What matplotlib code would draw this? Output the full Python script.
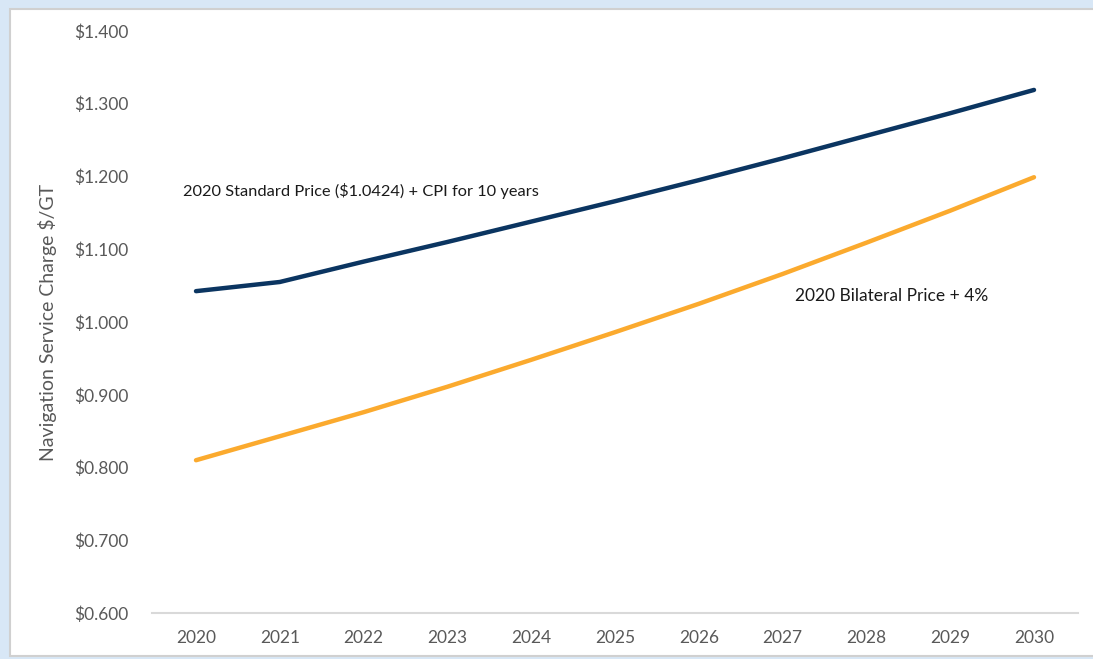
import matplotlib.pyplot as plt
from matplotlib.patches import Rectangle

# =============================================================================
# Data
# =============================================================================

years = [2020, 2021, 2022, 2023, 2024, 2025, 2026, 2027, 2028, 2029, 2030]
standard_price = [1.0424, 1.055, 1.083, 1.110, 1.138, 1.166, 1.195, 1.225, 1.256, 1.287, 1.319]
bilateral_price = [0.810, 0.843, 0.876, 0.911, 0.948, 0.986, 1.025, 1.066, 1.109, 1.153, 1.199]

y_ticks = [0.6, 0.7, 0.8, 0.9, 1.0, 1.1, 1.2, 1.3, 1.4]
y_tick_labels = ['$%.3f' % v for v in y_ticks]
label_standard = '2020 Standard Price (\\$1.0424) + CPI for 10 years'
label_bilateral = '2020 Bilateral Price + 4%'
y_title = 'Navigation Service Charge $/GT'

# =============================================================================
# Plot
# =============================================================================

plt.rcParams['font.family'] = ['Lato', 'DejaVu Sans']

navy = '#0B3561'
orange = '#FBAA2E'
grey_text = '#595959'

fig = plt.figure(figsize=(10.93, 6.59), dpi=100)
fig.patch.set_facecolor('#D8E7F6')

# white panel with a thin grey edge
panel = Rectangle((10 / 1093, 3 / 659), 1.2, (656 - 9) / 659,
                  transform=fig.transFigure, facecolor='white',
                  edgecolor='#D0D0D0', linewidth=1.5, zorder=0)
fig.patches.append(panel)

ax = fig.add_axes([152 / 1093, 46 / 659, (1078 - 152) / 1093, (613 - 31) / 659])
ax.set_facecolor('none')
ax.set_zorder(2)

ax.plot(years, standard_price, color=navy, linewidth=3.2, solid_capstyle='round')
ax.plot(years, bilateral_price, color=orange, linewidth=3.2, solid_capstyle='round')

ax.text(2019.845, 1.18, label_standard, fontsize=11.8, color='#1A1A1A', va='center', ha='left')
ax.text(2027.15, 1.036, label_bilateral, fontsize=12.5, color='#1A1A1A', va='center', ha='left')

ax.set_xlim(2019.475, 2030.525)
ax.set_ylim(0.6, 1.4)
ax.set_xticks(years)
ax.set_xticklabels([str(y) for y in years])
ax.set_yticks(y_ticks)
ax.set_yticklabels(y_tick_labels)

for s in ['top', 'right', 'left']:
    ax.spines[s].set_visible(False)
ax.spines['bottom'].set_color('#D9D9D9')
ax.spines['bottom'].set_linewidth(1.5)

ax.tick_params(axis='both', length=0, labelsize=12.5, labelcolor=grey_text)
ax.tick_params(axis='y', pad=17)
ax.tick_params(axis='x', pad=12)

ax.set_ylabel(y_title, fontsize=14, color=grey_text, labelpad=12)

plt.savefig('out.png', dpi=100, facecolor=fig.get_facecolor())
